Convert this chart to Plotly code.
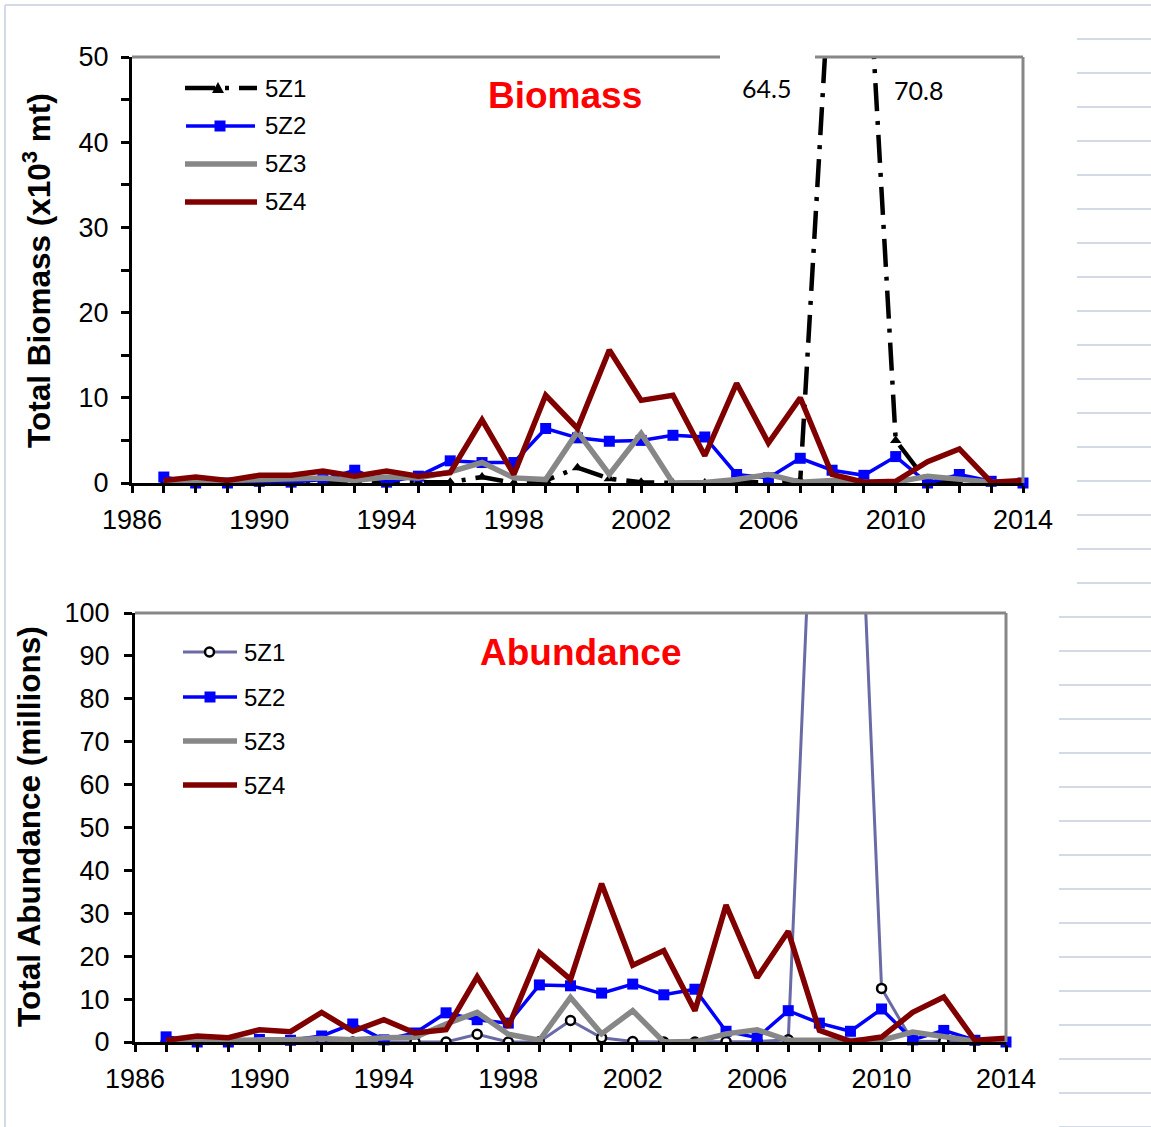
import plotly.graph_objects as go

# ---- data -------------------------------------------------------------
years = list(range(1987, 2015))

# Total biomass (x10^3 mt) by unit
bio_5z1 = [0, 0, 0, 0, 0, 0, 0, 0, 0.1, 0.1, 0.7, 0, 0.3, 1.8,
           0.5, 0.1, 0, 0, 0, 0.1, 0.3, 64.5, 70.8, 5.0, 0.1, 0, 0, 0]
bio_5z2 = [0.7, 0, 0, 0.2, 0.1, 0.4, 1.5, 0.1, 0.8, 2.6, 2.4, 2.4, 6.4, 5.3,
           4.9, 5.0, 5.6, 5.4, 1.0, 0.6, 2.9, 1.5, 0.9, 3.1, 0, 1.0, 0.2, 0]
bio_5z3 = [0.1, 0.3, 0.3, 0.4, 0.5, 0.6, 0.3, 0.7, 0.6, 1.3, 2.4, 0.6, 0.4, 6.0,
           1.0, 5.8, 0, 0.05, 0.4, 1.0, 0.1, 0.3, 0.1, 0.1, 0.8, 0.5, 0.1, 0.1]
bio_5z4 = [0.3, 0.7, 0.3, 0.9, 0.9, 1.4, 0.8, 1.4, 0.8, 1.2, 7.4, 1.0, 10.3, 6.4,
           15.6, 9.7, 10.3, 3.2, 11.7, 4.7, 10.0, 1.0, 0.1, 0.2, 2.5, 4.0, 0.1, 0.3]

# Total abundance (millions) by unit
abu_5z1 = [0, 0, 0, 0, 0, 0, 0, 0, 0, 0, 1.8, 0, 0.05, 5.0,
           1.0, 0.1, 0, 0, 0.1, 0.1, 0.5, 170, 185, 12.5, 0.1, 0.2, 0.1, 0.1]
abu_5z2 = [1.2, 0, 0, 0.6, 0.4, 1.4, 4.2, 0.5, 2.1, 6.8, 5.2, 4.4, 13.3, 13.1,
           11.4, 13.5, 11.0, 12.3, 2.5, 1.0, 7.3, 4.4, 2.5, 7.7, 0.5, 2.7, 0.4, 0]
abu_5z3 = [0.1, 0.3, 0.3, 0.5, 0.5, 0.8, 0.5, 1.0, 1.1, 4.2, 6.9, 1.8, 0.4, 10.4,
           1.9, 7.3, 0, 0.1, 1.9, 2.85, 0.4, 0.4, 0.3, 0.4, 2.3, 1.2, 0.2, 0.2]
abu_5z4 = [0.4, 1.4, 1.0, 2.85, 2.4, 6.9, 2.5, 5.2, 2.1, 2.85, 15.2, 3.5, 20.8, 14.6,
           36.9, 17.9, 21.3, 7.3, 31.9, 15.0, 25.8, 2.7, 0.15, 1.15, 6.9, 10.5, 0.4, 0.9]

units = ["5Z1", "5Z2", "5Z3", "5Z4"]
x_tick_years = [1986, 1990, 1994, 1998, 2002, 2006, 2010, 2014]

# ---- styling ----------------------------------------------------------
W, H = 1151, 1127
FONT = "Liberation Sans, Arial, sans-serif"
BLACK = "#000000"
BLUE = "#0000FF"
GREY = "#878787"
DARKRED = "#800000"
SLATE = "#6A6BA4"
FRAME = "#878787"
DECOR = "#D2DAE6"
DASHDOT = "28px,10px,4px,10px"
THICK = 5.5


def fx(px):
    return px / W


def fy(py):
    return 1 - py / H


fig = go.Figure()

# Biomass panel
fig.add_trace(go.Scatter(x=years, y=bio_5z1, name=units[0], mode="lines+markers",
                         line=dict(color=BLACK, width=4.5, dash=DASHDOT),
                         marker=dict(symbol="triangle-up", size=10, color=BLACK),
                         xaxis="x", yaxis="y"))
fig.add_trace(go.Scatter(x=years, y=bio_5z2, name=units[1], mode="lines+markers",
                         line=dict(color=BLUE, width=3.5),
                         marker=dict(symbol="square", size=11, color=BLUE),
                         cliponaxis=False, xaxis="x", yaxis="y"))
fig.add_trace(go.Scatter(x=years, y=bio_5z3, name=units[2], mode="lines",
                         line=dict(color=GREY, width=THICK), xaxis="x", yaxis="y"))
fig.add_trace(go.Scatter(x=years, y=bio_5z4, name=units[3], mode="lines",
                         line=dict(color=DARKRED, width=THICK), xaxis="x", yaxis="y"))

# Abundance panel
fig.add_trace(go.Scatter(x=years, y=abu_5z1, name=units[0], mode="lines+markers",
                         line=dict(color=SLATE, width=3),
                         marker=dict(symbol="circle", size=9, color="white",
                                     line=dict(color=BLACK, width=2.5)),
                         xaxis="x2", yaxis="y2"))
fig.add_trace(go.Scatter(x=years, y=abu_5z2, name=units[1], mode="lines+markers",
                         line=dict(color=BLUE, width=3.5),
                         marker=dict(symbol="square", size=11, color=BLUE),
                         cliponaxis=False, xaxis="x2", yaxis="y2"))
fig.add_trace(go.Scatter(x=years, y=abu_5z3, name=units[2], mode="lines",
                         line=dict(color=GREY, width=THICK), xaxis="x2", yaxis="y2"))
fig.add_trace(go.Scatter(x=years, y=abu_5z4, name=units[3], mode="lines",
                         line=dict(color=DARKRED, width=THICK), xaxis="x2", yaxis="y2"))

tickfont = dict(family=FONT, size=27, color=BLACK)


def xaxis_style(domain, anchor):
    return dict(domain=domain, anchor=anchor, range=[1986, 2014],
                tickmode="array", tickvals=x_tick_years,
                ticktext=[str(v) for v in x_tick_years],
                ticks="outside", ticklen=7, tickwidth=2.5, tickcolor=BLACK,
                minor=dict(tickmode="linear", tick0=1986, dtick=1, ticks="outside",
                           ticklen=7, tickwidth=2.5, tickcolor=BLACK, showgrid=False),
                showline=True, linecolor=BLACK, linewidth=3,
                showgrid=False, zeroline=False, tickfont=tickfont,
                ticklabelstandoff=4, automargin=False)


def yaxis_style(domain, anchor, top, minor_step, standoff):
    d = dict(domain=domain, anchor=anchor, range=[0, top],
             tickmode="linear", tick0=0, dtick=10,
             ticks="outside", ticklen=8, tickwidth=2.5, tickcolor=BLACK,
             showline=True, linecolor=BLACK, linewidth=3,
             showgrid=False, zeroline=False, tickfont=tickfont,
             ticklabelstandoff=standoff, automargin=False)
    if minor_step:
        d["minor"] = dict(tickmode="linear", tick0=0, dtick=minor_step, ticks="outside",
                          ticklen=8, tickwidth=2.5, tickcolor=BLACK, showgrid=False)
    return d


shapes = []
annotations = []

# page decoration: light frame and ruled lines down the right edge
shapes.append(dict(type="line", xref="paper", yref="paper", x0=fx(5), x1=fx(W),
                   y0=fy(5), y1=fy(5), line=dict(color=DECOR, width=2), layer="below"))
shapes.append(dict(type="line", xref="paper", yref="paper", x0=fx(5), x1=fx(5),
                   y0=fy(5), y1=fy(H), line=dict(color=DECOR, width=2), layer="below"))
for k in range(17):
    yy = 39 + 34 * k
    shapes.append(dict(type="line", xref="paper", yref="paper", x0=fx(1077), x1=fx(W),
                       y0=fy(yy), y1=fy(yy), line=dict(color=DECOR, width=2), layer="below"))
for k in range(16):
    yy = 617 + 34 * k
    shapes.append(dict(type="line", xref="paper", yref="paper", x0=fx(1059), x1=fx(W),
                       y0=fy(yy), y1=fy(yy), line=dict(color=DECOR, width=2), layer="below"))

# grey top and right frame of each panel
for xa, ya in (("x", "y"), ("x2", "y2")):
    shapes.append(dict(type="line", xref=f"{xa} domain", yref=f"{ya} domain",
                       x0=0, x1=1, y0=1, y1=1, line=dict(color=FRAME, width=3)))
    shapes.append(dict(type="line", xref=f"{xa} domain", yref=f"{ya} domain",
                       x0=1, x1=1, y0=0, y1=1, line=dict(color=FRAME, width=3)))

# white label box that sits over the top frame of the biomass panel
shapes.append(dict(type="rect", xref="paper", yref="paper", x0=fx(720), x1=fx(815),
                   y0=fy(63), y1=fy(51), fillcolor="white", line=dict(width=0)))


def text_at(text, px, py, size, color=BLACK, family=FONT, xanchor="center", angle=0):
    annotations.append(dict(text=text, xref="paper", yref="paper", x=fx(px), y=fy(py),
                            xanchor=xanchor, yanchor="middle", showarrow=False,
                            textangle=angle,
                            font=dict(family=family, size=size, color=color)))


def legend_entry(px0, px1, py, color, width, dash, text, tx):
    shapes.append(dict(type="line", xref="paper", yref="paper", x0=fx(px0), x1=fx(px1),
                       y0=fy(py), y1=fy(py), line=dict(color=color, width=width, dash=dash)))
    text_at(text, tx, py, 24, xanchor="left")


def square(cx, cy, s, color):
    shapes.append(dict(type="rect", xref="paper", yref="paper",
                       x0=fx(cx - s / 2), x1=fx(cx + s / 2),
                       y0=fy(cy + s / 2), y1=fy(cy - s / 2),
                       fillcolor=color, line=dict(width=0)))


# biomass legend
rows_top = [88, 126, 164, 202]
legend_entry(185, 257, rows_top[0], BLACK, 4.5, "30px,10px,4px,10px", units[0], 263)
shapes.append(dict(type="path", xref="paper", yref="paper",
                   path=f"M{fx(218)},{fy(82)} L{fx(224)},{fy(93)} L{fx(212)},{fy(93)} Z",
                   fillcolor=BLACK, line=dict(width=0)))
legend_entry(186, 255, rows_top[1], BLUE, 3.5, "solid", units[1], 263)
square(220, rows_top[1], 11, BLUE)
legend_entry(185, 257, rows_top[2], GREY, THICK, "solid", units[2], 263)
legend_entry(185, 257, rows_top[3], DARKRED, THICK, "solid", units[3], 263)

# abundance legend
rows_bot = [652, 697, 741, 785]
legend_entry(183, 237, rows_bot[0], SLATE, 3, "solid", units[0], 242)
shapes.append(dict(type="circle", xref="paper", yref="paper",
                   x0=fx(205), x1=fx(214), y0=fy(656.5), y1=fy(647.5),
                   fillcolor="white", line=dict(color=BLACK, width=2.5)))
legend_entry(183, 237, rows_bot[1], BLUE, 3.5, "solid", units[1], 242)
square(210, rows_bot[1], 11, BLUE)
legend_entry(183, 237, rows_bot[2], GREY, THICK, "solid", units[2], 242)
legend_entry(183, 237, rows_bot[3], DARKRED, THICK, "solid", units[3], 242)

# panel titles
text_at("<b>Biomass</b>", 565, 96, 37, color="#FF0000")
text_at("<b>Abundance</b>", 580, 652, 37, color="#FF0000")

# axis titles
text_at("<b>Total Biomass (x10<sup>3</sup> mt)</b>", 37, 271, 31.5, angle=-90)
text_at("<b>Total Abundance (millions)</b>", 29, 827, 31.5, angle=-90)

# values of the 5Z1 biomass peaks that run off the top of the panel
i08, i09 = years.index(2008), years.index(2009)
text_at(f"{bio_5z1[i08]}", 766, 88, 25, family="Lato, Open Sans, sans-serif")
text_at(f"{bio_5z1[i09]}", 918, 90, 25, family="Lato, Open Sans, sans-serif")

fig.update_layout(
    width=W, height=H, autosize=False,
    margin=dict(l=0, r=0, t=0, b=0, pad=0, autoexpand=False),
    paper_bgcolor="white", plot_bgcolor="white",
    showlegend=False,
    xaxis=xaxis_style([fx(132), fx(1023)], "y"),
    yaxis=yaxis_style([fy(483), fy(57)], "x", 50, 5, 7),
    xaxis2=xaxis_style([fx(135), fx(1006)], "y2"),
    yaxis2=yaxis_style([fy(1042), fy(613)], "x2", 100, None, 9),
    shapes=shapes,
    annotations=annotations,
)

fig.write_html("out.html")
